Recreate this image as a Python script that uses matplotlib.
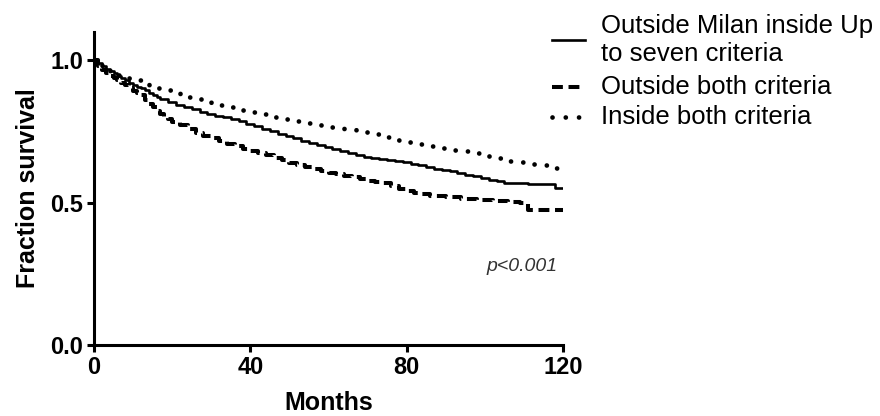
"""
Curvas de supervivencia (Kaplan-Meier) por criterio Milan / Up to seven.
"""
import matplotlib
matplotlib.use("Agg")
from matplotlib import pyplot as plt
from matplotlib.lines import Line2D

plt.rcParams["font.family"] = ["Liberation Sans", "DejaVu Sans"]

# Datos
meses_up7 = [0, 1, 2, 3, 4, 5, 6, 7, 8, 9, 10, 11, 12, 13, 14, 15, 16, 17, 19, 21, 23, 25,
             27, 29, 31, 33, 35, 37, 39, 41, 43, 45, 47, 49, 51, 53, 55, 57, 59, 61, 63, 65,
             67, 69, 71, 73, 75, 77, 79, 81, 83, 85, 87, 89, 91, 93, 95, 97, 99, 101, 103,
             105, 108, 111, 114, 118, 120]
surv_up7 = [1.0, 0.99, 0.98, 0.97, 0.962, 0.955, 0.945, 0.937, 0.93, 0.922, 0.915, 0.908,
            0.902, 0.895, 0.885, 0.877, 0.87, 0.863, 0.855, 0.845, 0.836, 0.828, 0.82, 0.812,
            0.806, 0.80, 0.794, 0.787, 0.778, 0.768, 0.76, 0.752, 0.743, 0.734, 0.726, 0.718,
            0.71, 0.702, 0.695, 0.688, 0.682, 0.676, 0.668, 0.662, 0.657, 0.654, 0.65, 0.646,
            0.643, 0.637, 0.632, 0.626, 0.62, 0.614, 0.61, 0.605, 0.599, 0.593, 0.587, 0.581,
            0.575, 0.569, 0.568, 0.567, 0.566, 0.552, 0.552]

meses_fuera = [0, 1, 2, 3, 4, 5, 6, 7, 8, 9, 10, 11, 12, 13, 14, 15, 16, 17, 18, 19, 20, 22,
               24, 26, 28, 30, 32, 34, 36, 38, 40, 42, 44, 46, 48, 50, 52, 54, 56, 58, 60, 62,
               64, 66, 68, 70, 72, 74, 76, 78, 80, 82, 84, 86, 90, 94, 98, 102, 106, 109,
               111, 120]
surv_fuera = [1.0, 0.98, 0.965, 0.955, 0.945, 0.937, 0.93, 0.922, 0.912, 0.902, 0.894,
              0.886, 0.878, 0.862, 0.848, 0.835, 0.822, 0.812, 0.802, 0.793, 0.783, 0.772,
              0.76, 0.745, 0.735, 0.726, 0.716, 0.707, 0.698, 0.69, 0.682, 0.674, 0.666,
              0.658, 0.65, 0.641, 0.634, 0.626, 0.619, 0.612, 0.605, 0.60, 0.595, 0.589,
              0.584, 0.578, 0.574, 0.569, 0.558, 0.547, 0.541, 0.535, 0.529, 0.523, 0.519,
              0.514, 0.51, 0.506, 0.502, 0.499, 0.475, 0.474]

meses_dentro = [0, 2, 4, 6, 8, 10, 12, 14, 16, 18, 20, 22, 24, 26, 28, 30, 32, 34, 36, 38,
                40, 43, 46, 49, 52, 55, 58, 61, 64, 67, 70, 73, 76, 79, 82, 85, 88, 91, 94,
                97, 100, 103, 106, 109, 112, 115, 118, 120]
surv_dentro = [1.0, 0.972, 0.96, 0.948, 0.938, 0.93, 0.92, 0.912, 0.904, 0.896, 0.889,
               0.879, 0.871, 0.864, 0.857, 0.85, 0.843, 0.837, 0.831, 0.825, 0.819, 0.811,
               0.803, 0.795, 0.788, 0.781, 0.774, 0.767, 0.759, 0.75, 0.74, 0.731, 0.722,
               0.714, 0.706, 0.70, 0.693, 0.687, 0.681, 0.674, 0.665, 0.656, 0.648, 0.642,
               0.637, 0.631, 0.622, 0.616]

etiquetas = ["Outside Milan inside Up\nto seven criteria",
             "Outside both criteria",
             "Inside both criteria"]
x_ticks = [0, 40, 80, 120]
y_ticks = [0.0, 0.5, 1.0]

# Estilos de linea
estilo_solido = dict(color="black", lw=1.9, linestyle="-")
estilo_guion = dict(color="black", lw=2.9, dashes=(2.7, 1.4), dash_capstyle="butt")
estilo_punto = dict(color="black", lw=3.4, dashes=(0.01, 2.8), dash_capstyle="round")

fig = plt.figure(figsize=(8.8, 4.16), dpi=100)
ax = fig.add_axes([94 / 880, 1 - 345 / 416, (563 - 94) / 880, (345 - 32) / 416])

ax.plot(meses_dentro, surv_dentro, drawstyle="steps-post", **estilo_punto)
ax.plot(meses_fuera, surv_fuera, drawstyle="steps-post", **estilo_guion)
ax.plot(meses_up7, surv_up7, drawstyle="steps-post", **estilo_solido)

ax.set_xlim(0, 120)
ax.set_ylim(0, 1.1)
ax.set_xticks(x_ticks)
ax.set_yticks(y_ticks)
ax.set_yticklabels([f"{v:.1f}" for v in y_ticks])
ax.spines["top"].set_visible(False)
ax.spines["right"].set_visible(False)
for s in ("left", "bottom"):
    ax.spines[s].set_linewidth(2.2)
ax.tick_params(width=2.2, length=5, labelsize=17, pad=3)
for lab in ax.get_xticklabels() + ax.get_yticklabels():
    lab.set_fontweight("bold")

ax.set_xlabel("Months", fontsize=18, fontweight="bold", labelpad=8.5)
ax.set_ylabel("Fraction survival", fontsize=18, fontweight="bold", labelpad=7)

ax.text(118.5, 0.275, "p<0.001", fontsize=14, style="italic", color="#333333",
        ha="right", va="center")

# Leyenda manual (estilo Prism)
y_entradas = [40, 87, 117]
estilos = [estilo_solido, estilo_guion, estilo_punto]
for y, est, lab in zip(y_entradas, estilos, etiquetas):
    yf = 1 - y / 416
    fig.add_artist(Line2D([552 / 880, 585 / 880], [yf, yf], transform=fig.transFigure, **est))
    fig.text(601 / 880, yf, lab, fontsize=18.5, ha="left", va="center", linespacing=1.2)

fig.savefig("out.png", dpi=100)
